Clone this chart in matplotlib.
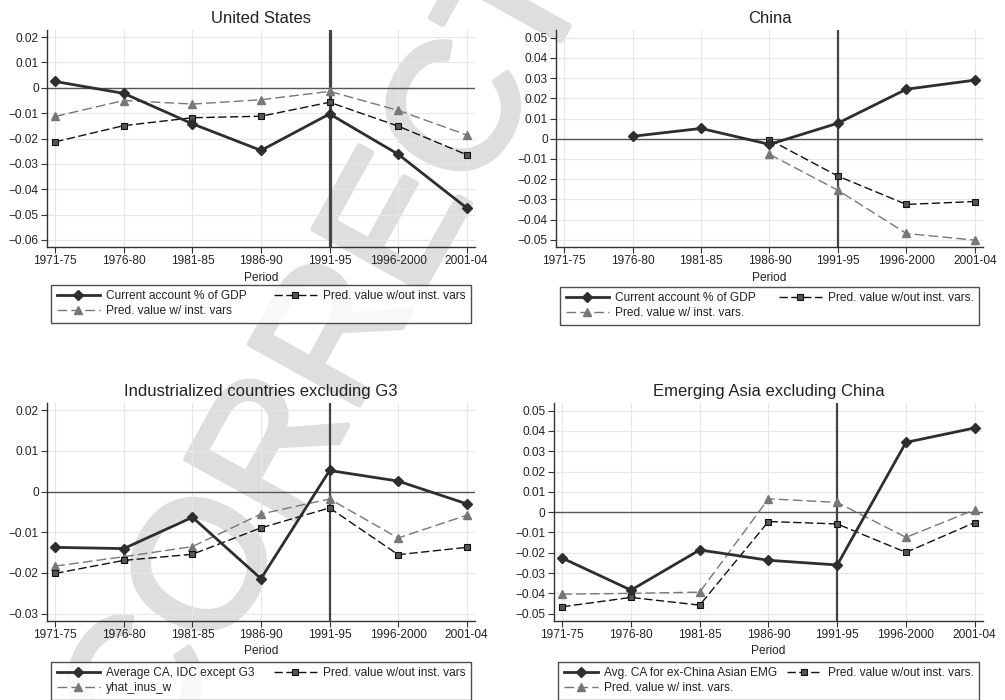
import numpy as np
import matplotlib
matplotlib.use("Agg")
import matplotlib.pyplot as plt
import matplotlib.patheffects as pe
from matplotlib.ticker import FuncFormatter

plt.rcParams["font.family"] = ["Liberation Sans", "DejaVu Sans"]

periods = ["1971-75", "1976-80", "1981-85", "1986-90", "1991-95", "1996-2000", "2001-04"]
nan = np.nan

# United States
us_ca = [0.0025, -0.0022, -0.0142, -0.0247, -0.0103, -0.0262, -0.0474]
us_wout = [-0.0213, -0.0149, -0.0118, -0.0112, -0.0057, -0.0151, -0.0264]
us_w = [-0.0113, -0.0050, -0.0064, -0.0047, -0.0014, -0.0089, -0.0186]

# China
cn_ca = [nan, 0.0012, 0.0051, -0.0028, 0.0077, 0.0245, 0.0290]
cn_wout = [nan, nan, nan, -0.0005, -0.0185, -0.0325, -0.0311]
cn_w = [nan, nan, nan, -0.0077, -0.0255, -0.0469, -0.0502]

# Industrialized countries excluding G3
idc_ca = [-0.0137, -0.0140, -0.0063, -0.0214, 0.0052, 0.0026, -0.0030]
idc_wout = [-0.0201, -0.0169, -0.0154, -0.0089, -0.0040, -0.0155, -0.0137]
idc_w = [-0.0183, -0.0160, -0.0135, -0.0055, -0.0018, -0.0114, -0.0058]

# Emerging Asia excluding China
emg_ca = [-0.0226, -0.0384, -0.0186, -0.0237, -0.0260, 0.0344, 0.0415]
emg_wout = [-0.0466, -0.0420, -0.0458, -0.0046, -0.0058, -0.0198, -0.0051]
emg_w = [-0.0404, -0.0400, -0.0394, 0.0066, 0.0048, -0.0124, 0.0012]

panels = [
    dict(title="United States", ca=us_ca, wout=us_wout, w=us_w,
         labels=["Current account % of GDP", "Pred. value w/out inst. vars",
                 "Pred. value w/ inst. vars"],
         yticks=np.arange(-0.06, 0.021, 0.01), ylim=(-0.0628, 0.0228),
         rect=[0.0468, 0.6471, 0.4258, 0.31], vlw=2.3, leg_top=-0.175, hl=3.6),
    dict(title="China", ca=cn_ca, wout=cn_wout, w=cn_w,
         labels=["Current account % of GDP", "Pred. value w/out inst. vars.",
                 "Pred. value w/ inst. vars."],
         yticks=np.arange(-0.05, 0.051, 0.01), ylim=(-0.0536, 0.0538),
         rect=[0.5532, 0.6471, 0.4249, 0.31], vlw=1.6, leg_top=-0.184, hl=3.6),
    dict(title="Industrialized countries excluding G3", ca=idc_ca, wout=idc_wout, w=idc_w,
         labels=["Average CA, IDC except G3", "Pred. value w/out inst. vars",
                 "yhat_inus_w"],
         yticks=np.arange(-0.03, 0.021, 0.01), ylim=(-0.0318, 0.0218),
         rect=[0.0468, 0.1129, 0.4258, 0.3114], vlw=1.6, leg_top=-0.188, hl=3.6),
    dict(title="Emerging Asia excluding China", ca=emg_ca, wout=emg_wout, w=emg_w,
         labels=["Avg. CA for ex-China Asian EMG", "Pred. value w/out inst. vars.",
                 "Pred. value w/ inst. vars."],
         yticks=np.arange(-0.05, 0.051, 0.01), ylim=(-0.0536, 0.0538),
         rect=[0.5512, 0.1129, 0.4269, 0.3114], vlw=1.6, leg_top=-0.188, hl=2.9),
]


def fmt(v, pos):
    if abs(v) < 1e-9:
        return "0"
    return f"{v:.2f}".replace("-", "\u2212")


fig = plt.figure(figsize=(10.05, 7), dpi=100)
fig.patch.set_facecolor("white")

# proof watermark behind the panels
wm_color = "#dedede"
fig.text(0.155, -0.102, "CORRECTED", rotation=61, rotation_mode="anchor",
         ha="left", va="baseline", fontsize=131, color=wm_color, zorder=-10,
         path_effects=[pe.withStroke(linewidth=4, foreground=wm_color)])

x = np.arange(len(periods))
for p in panels:
    ax = fig.add_axes(p["rect"])
    ax.set_facecolor("none")
    ax.set_xlim(-0.12, 6.12)
    ax.set_ylim(*p["ylim"])
    ax.set_yticks(p["yticks"])
    ax.yaxis.set_major_formatter(FuncFormatter(fmt))
    ax.set_xticks(x)
    ax.set_xticklabels(periods)
    ax.grid(True, color="#e6e6e6", lw=0.8, zorder=0)
    ax.set_axisbelow(True)
    for s in ["top", "right"]:
        ax.spines[s].set_visible(False)
    for s in ["left", "bottom"]:
        ax.spines[s].set_color("#333333")
        ax.spines[s].set_linewidth(1.0)
    ax.tick_params(direction="out", length=4, width=0.8, color="#333333",
                   labelsize=8.6, labelcolor="#222222", pad=2)
    ax.axhline(0, color="#555555", lw=1.0, zorder=1)
    ax.axvline(4, color="#444444", lw=p["vlw"], zorder=1)

    h1, = ax.plot(x, p["ca"], color="#2e2e2e", lw=2.0, marker="D", ms=5.5,
                  mfc="#2e2e2e", mec="#2e2e2e", zorder=5)
    h2, = ax.plot(x, p["wout"], color="#111111", lw=1.0, ls=(0, (6, 2.5)),
                  marker="s", ms=4.8, mfc="#555555", mec="#111111", mew=0.8, zorder=4)
    h3, = ax.plot(x, p["w"], color="#777777", lw=1.0, ls=(0, (7, 3)),
                  marker="^", ms=5.2, mfc="#777777", mec="#777777", zorder=3)

    ax.set_title(p["title"], fontsize=12, color="#222222", pad=5)
    ax.set_xlabel("Period", fontsize=8.6, color="#222222", labelpad=3)

    leg = ax.legend([h1, h3, h2], [p["labels"][0], p["labels"][2], p["labels"][1]],
                    ncol=2, loc="upper left", mode="expand",
                    bbox_to_anchor=(0.01, p["leg_top"] - 0.2, 0.98, 0.2),
                    fontsize=8.6, frameon=True, fancybox=False, edgecolor="#222222",
                    handlelength=p["hl"], handletextpad=0.5, borderpad=0.45,
                    labelspacing=0.25, borderaxespad=0, numpoints=1)
    leg.get_frame().set_linewidth(1.0)
    for t in leg.get_texts():
        t.set_color("#222222")

fig.savefig("out.png", dpi=100)
